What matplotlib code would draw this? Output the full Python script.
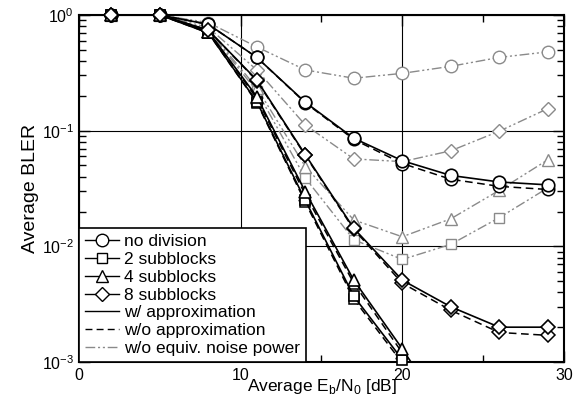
import matplotlib
matplotlib.use('Agg')
import matplotlib.pyplot as plt
from matplotlib.lines import Line2D

plt.rcParams['font.family'] = ['Liberation Sans', 'DejaVu Sans']
plt.rcParams['mathtext.fontset'] = 'custom'
plt.rcParams['mathtext.rm'] = 'Liberation Sans'
plt.rcParams['font.size'] = 11

# Eb/N0 points [dB]
snr = [2, 5, 8, 11, 14, 17, 20, 23, 26, 29]

# no division
nodiv_appr = [1.0, 1.0, 0.83, 0.43, 0.176, 0.086, 0.055, 0.041, 0.036, 0.034]
nodiv_noappr = [1.0, 1.0, 0.83, 0.43, 0.174, 0.084, 0.052, 0.038, 0.033, 0.031]
nodiv_noeq = [1.0, 1.0, 0.86, 0.53, 0.335, 0.284, 0.313, 0.36, 0.43, 0.48]

# 2 subblocks
sb2_appr = [1.0, 1.0, 0.70, 0.178, 0.025, 0.0037, 0.00105, 2.5e-4]
sb2_noappr = [1.0, 1.0, 0.70, 0.175, 0.024, 0.0035, 0.00098, 2.3e-4]
sb2_noeq = [1.0, 1.0, 0.73, 0.22, 0.039, 0.0114, 0.0077, 0.0104, 0.0177, 0.032]

# 4 subblocks
sb4_appr = [1.0, 1.0, 0.72, 0.197, 0.0297, 0.0051, 0.0013, 3.0e-4]
sb4_noappr = [1.0, 1.0, 0.72, 0.19, 0.028, 0.0048, 0.0012, 2.8e-4]
sb4_noeq = [1.0, 1.0, 0.74, 0.235, 0.049, 0.0169, 0.0121, 0.0173, 0.0305, 0.056]

# 8 subblocks
sb8_appr = [1.0, 1.0, 0.74, 0.274, 0.062, 0.0143, 0.0051, 0.0030, 0.0020, 0.0020]
sb8_noappr = [1.0, 1.0, 0.74, 0.27, 0.061, 0.0140, 0.0048, 0.0028, 0.0018, 0.0017]
sb8_noeq = [1.0, 1.0, 0.78, 0.335, 0.112, 0.057, 0.054, 0.067, 0.099, 0.155]

grey = '#8a8a8a'
dashdotdot = (0, (7, 2, 1.5, 2, 1.5, 2))
dashed = (0, (5, 3))
ymin = 1e-3

fig = plt.figure(figsize=(5.79, 4.0), dpi=100)
ax = fig.add_axes([0.1364, 0.095, 0.974 - 0.1364, 0.9625 - 0.095])

series = [
    ('o', 9, nodiv_appr, nodiv_noappr, nodiv_noeq),
    ('s', 7.5, sb2_appr, sb2_noappr, sb2_noeq),
    ('^', 8, sb4_appr, sb4_noappr, sb4_noeq),
    ('D', 7, sb8_appr, sb8_noappr, sb8_noeq),
]


def draw(vals, mk, ms, color, ls, lw, z):
    xs = snr[:len(vals)]
    ax.plot(xs, vals, color=color, linestyle=ls, lw=lw, zorder=z)
    # markers are not clipped at the top edge, only points inside the range
    pts = [(x, v) for x, v in zip(xs, vals) if v >= ymin]
    ax.plot([p[0] for p in pts], [p[1] for p in pts], linestyle='none',
            marker=mk, ms=ms, mfc='white', mec=color, mew=lw, zorder=z,
            clip_on=False)


for mk, ms, appr, noappr, noeq in series:
    draw(noeq, mk, ms, grey, dashdotdot, 1.0, 2)
    draw(noappr, mk, ms, 'black', dashed, 1.1, 3)
    draw(appr, mk, ms, 'black', '-', 1.2, 4)

ax.set_yscale('log')
ax.set_xlim(0, 30)
ax.set_ylim(ymin, 1)
ax.set_xticks([0, 10, 20, 30])
ax.set_xticks([5, 15, 25], minor=True)
ax.grid(True, which='major', color='black', lw=0.8)
ax.tick_params(which='both', direction='in', top=True, right=True, width=1.0)
ax.tick_params(which='major', length=8, labelsize=11.5)
ax.tick_params(axis='x', which='major', pad=4)
ax.tick_params(which='minor', length=5)
for s in ax.spines.values():
    s.set_linewidth(1.5)

ax.set_xlabel(r'Average E$_\mathrm{b}$/N$_\mathrm{0}$ [dB]', fontsize=12.5, labelpad=-4)
ax.set_ylabel('Average BLER', fontsize=14, labelpad=2)

handles = [
    Line2D([], [], color='black', lw=1.0, marker='o', ms=9, mfc='white', mec='black'),
    Line2D([], [], color='black', lw=1.0, marker='s', ms=7.5, mfc='white', mec='black'),
    Line2D([], [], color='black', lw=1.0, marker='^', ms=8, mfc='white', mec='black'),
    Line2D([], [], color='black', lw=1.0, marker='D', ms=7, mfc='white', mec='black'),
    Line2D([], [], color='black', lw=1.0),
    Line2D([], [], color='black', lw=1.0, linestyle=dashed),
    Line2D([], [], color=grey, lw=1.0, linestyle=dashdotdot),
]
labels = ['no division', '2 subblocks', '4 subblocks', '8 subblocks',
          'w/ approximation', 'w/o approximation', 'w/o equiv. noise power']
leg = ax.legend(handles, labels, loc='lower left', bbox_to_anchor=(0, 0),
                borderaxespad=0, fancybox=False, framealpha=1, edgecolor='black',
                fontsize=12.5, handlelength=1.95, handletextpad=0.3,
                labelspacing=0.15, borderpad=0.35)
leg.get_frame().set_linewidth(1.2)
leg.set_zorder(10)

fig.savefig('out.png', dpi=100)
